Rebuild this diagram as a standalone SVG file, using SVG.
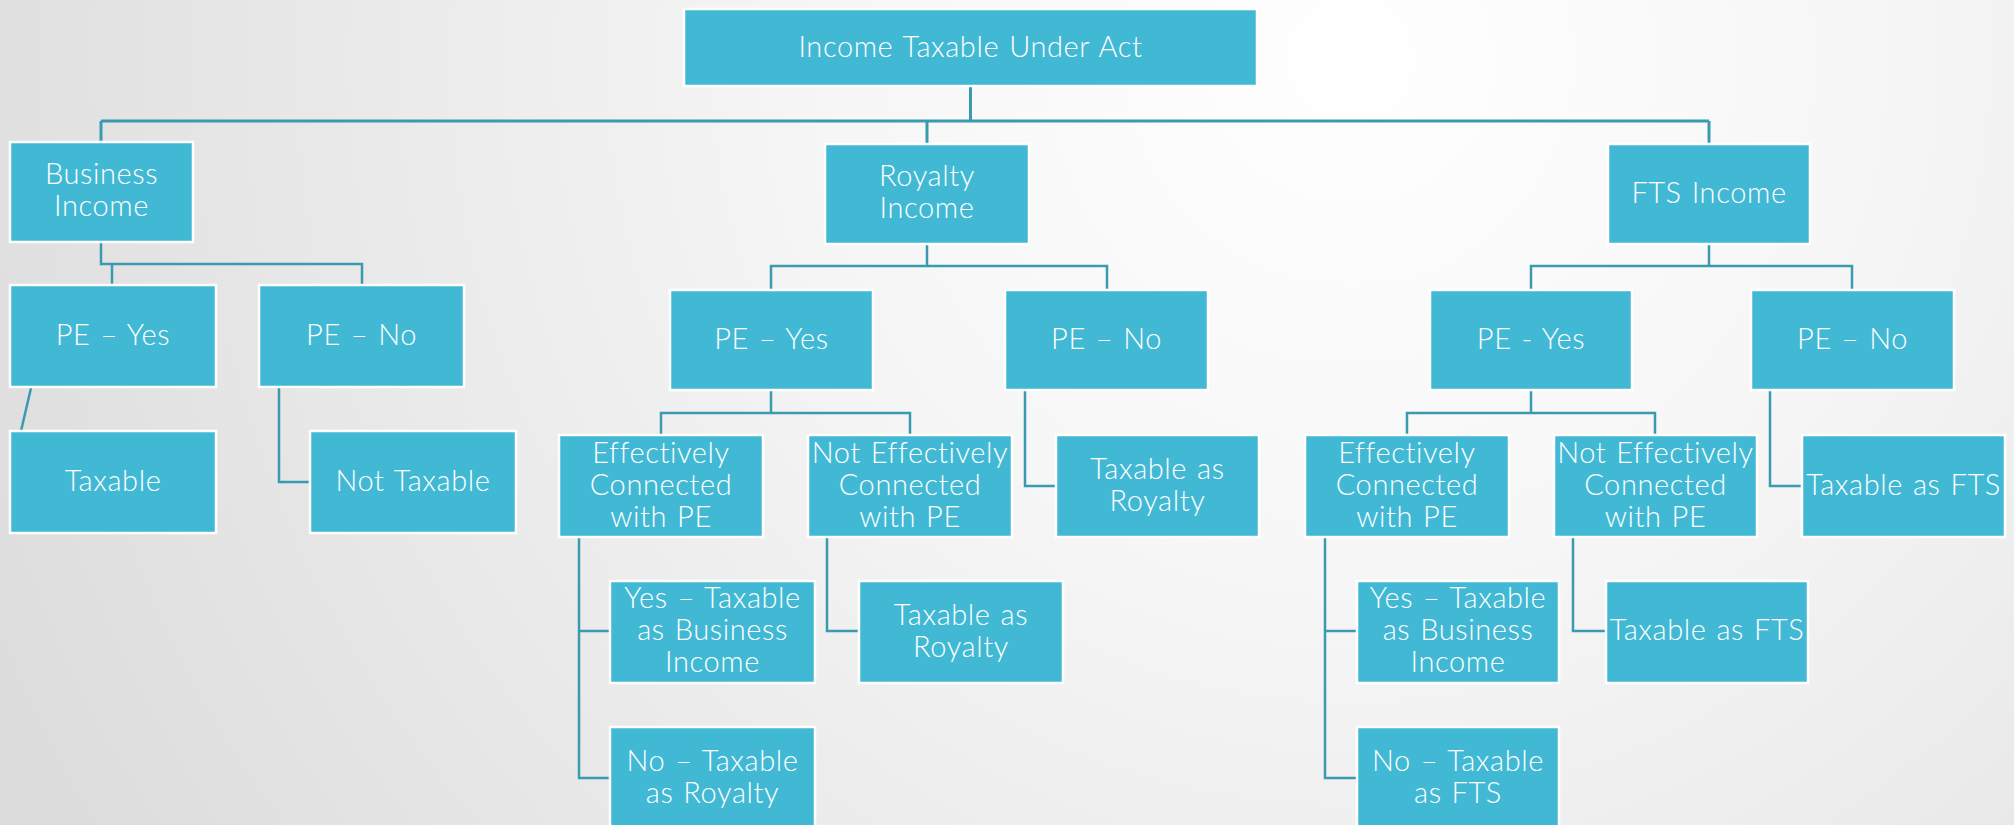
<svg xmlns="http://www.w3.org/2000/svg" width="2014" height="825" viewBox="0 0 2014 825">
  <defs>
    <radialGradient id="bg" cx="1350" cy="60" r="1500" gradientUnits="userSpaceOnUse">
      <stop offset="0" stop-color="#ffffff"/>
      <stop offset="0.35" stop-color="#f6f6f6"/>
      <stop offset="1" stop-color="#dcdcdc"/>
    </radialGradient>
  </defs>
  <style>
    .box { fill: #42b9d4; stroke: #ffffff; stroke-width: 2.5; }
    .lbl { fill: #ffffff; font-family: "Lato", "Open Sans", "Liberation Sans", sans-serif; font-weight: 300; font-size: 29px; letter-spacing: 0.6px; word-spacing: 1.5px; text-anchor: middle; }
    .wire { fill: none; stroke: #3a9bb0; stroke-width: 2.5; }
    .main { stroke-width: 3; }
  </style>

  <rect x="0" y="0" width="2014" height="825" fill="url(#bg)"/>

  <!-- tree connectors -->
  <g id="connectors">
    <path class="wire main" d="M970.5 86 V121 M101 121 H1709 M101 121 V142 M927 121 V144 M1709 121 V144"/>
    <!-- business income branch -->
    <path class="wire" d="M101 242 V264 H362 V285 M112 264 V285"/>
    <path class="wire" d="M31 388 L21 431"/>
    <path class="wire" d="M279 388 V482 H310"/>
    <!-- royalty income branch -->
    <path class="wire" d="M927 244 V266 M771 290 V266 H1107 V290"/>
    <path class="wire" d="M771 390 V413 M661 435 V413 H910 V435"/>
    <path class="wire" d="M1025 390 V486 H1056"/>
    <path class="wire" d="M579 537 V778 H610 M579 631 H610"/>
    <path class="wire" d="M827 537 V631 H859"/>
    <!-- FTS income branch -->
    <path class="wire" d="M1709 244 V266 M1531 290 V266 H1852 V290"/>
    <path class="wire" d="M1531 390 V413 M1407 435 V413 H1655 V435"/>
    <path class="wire" d="M1770 390 V486 H1802"/>
    <path class="wire" d="M1325 537 V778 H1357 M1325 631 H1357"/>
    <path class="wire" d="M1573 537 V631 H1606"/>
  </g>

  <g id="root">
    <rect class="box" x="684" y="9" width="573" height="77"/>
    <text class="lbl" x="970.5" y="57">Income Taxable Under Act</text>
  </g>

  <!-- business income -->
  <g id="business-income">
    <rect class="box" x="10" y="142" width="183" height="100"/>
    <text class="lbl" x="101.5" y="184">Business</text>
    <text class="lbl" x="101.5" y="216">Income</text>
  </g>
  <g id="business-pe-yes">
    <rect class="box" x="10" y="285" width="206" height="102"/>
    <text class="lbl" x="113" y="345">PE – Yes</text>
  </g>
  <g id="business-pe-no">
    <rect class="box" x="259" y="285" width="205" height="102"/>
    <text class="lbl" x="361.5" y="345">PE – No</text>
  </g>
  <g id="business-taxable">
    <rect class="box" x="10" y="431" width="206" height="102"/>
    <text class="lbl" x="113" y="491">Taxable</text>
  </g>
  <g id="business-not-taxable">
    <rect class="box" x="310" y="431" width="206" height="102"/>
    <text class="lbl" x="413" y="491">Not Taxable</text>
  </g>

  <!-- royalty income -->
  <g id="royalty-income">
    <rect class="box" x="825" y="144" width="204" height="100"/>
    <text class="lbl" x="927" y="186">Royalty</text>
    <text class="lbl" x="927" y="218">Income</text>
  </g>
  <g id="royalty-pe-yes">
    <rect class="box" x="670" y="290" width="203" height="100"/>
    <text class="lbl" x="771.5" y="349">PE – Yes</text>
  </g>
  <g id="royalty-pe-no">
    <rect class="box" x="1005" y="290" width="203" height="100"/>
    <text class="lbl" x="1106.5" y="349">PE – No</text>
  </g>
  <g id="royalty-effective">
    <rect class="box" x="559" y="435" width="204" height="102"/>
    <text class="lbl" x="661" y="463">Effectively</text>
    <text class="lbl" x="661" y="495">Connected</text>
    <text class="lbl" x="661" y="527">with PE</text>
  </g>
  <g id="royalty-not-effective">
    <rect class="box" x="808" y="435" width="204" height="102"/>
    <text class="lbl" x="910" y="463">Not Effectively</text>
    <text class="lbl" x="910" y="495">Connected</text>
    <text class="lbl" x="910" y="527">with PE</text>
  </g>
  <g id="royalty-no-pe-result">
    <rect class="box" x="1056" y="435" width="203" height="102"/>
    <text class="lbl" x="1157.5" y="479">Taxable as</text>
    <text class="lbl" x="1157.5" y="511">Royalty</text>
  </g>
  <g id="royalty-yes-business">
    <rect class="box" x="610" y="581" width="205" height="102"/>
    <text class="lbl" x="712.5" y="608">Yes – Taxable</text>
    <text class="lbl" x="712.5" y="640">as Business</text>
    <text class="lbl" x="712.5" y="672">Income</text>
  </g>
  <g id="royalty-no-royalty">
    <rect class="box" x="610" y="727" width="205" height="104"/>
    <text class="lbl" x="712.5" y="771">No – Taxable</text>
    <text class="lbl" x="712.5" y="803">as Royalty</text>
  </g>
  <g id="royalty-not-effective-result">
    <rect class="box" x="859" y="581" width="204" height="102"/>
    <text class="lbl" x="961" y="625">Taxable as</text>
    <text class="lbl" x="961" y="657">Royalty</text>
  </g>

  <!-- FTS income -->
  <g id="fts-income">
    <rect class="box" x="1608" y="144" width="202" height="100"/>
    <text class="lbl" x="1709" y="203">FTS Income</text>
  </g>
  <g id="fts-pe-yes">
    <rect class="box" x="1430" y="290" width="202" height="100"/>
    <text class="lbl" x="1531" y="349">PE - Yes</text>
  </g>
  <g id="fts-pe-no">
    <rect class="box" x="1751" y="290" width="203" height="100"/>
    <text class="lbl" x="1852.5" y="349">PE – No</text>
  </g>
  <g id="fts-effective">
    <rect class="box" x="1305" y="435" width="204" height="102"/>
    <text class="lbl" x="1407" y="463">Effectively</text>
    <text class="lbl" x="1407" y="495">Connected</text>
    <text class="lbl" x="1407" y="527">with PE</text>
  </g>
  <g id="fts-not-effective">
    <rect class="box" x="1554" y="435" width="203" height="102"/>
    <text class="lbl" x="1655.5" y="463">Not Effectively</text>
    <text class="lbl" x="1655.5" y="495">Connected</text>
    <text class="lbl" x="1655.5" y="527">with PE</text>
  </g>
  <g id="fts-no-pe-result">
    <rect class="box" x="1802" y="435" width="203" height="102"/>
    <text class="lbl" x="1903.5" y="495">Taxable as FTS</text>
  </g>
  <g id="fts-yes-business">
    <rect class="box" x="1357" y="581" width="202" height="102"/>
    <text class="lbl" x="1458" y="608">Yes – Taxable</text>
    <text class="lbl" x="1458" y="640">as Business</text>
    <text class="lbl" x="1458" y="672">Income</text>
  </g>
  <g id="fts-no-fts">
    <rect class="box" x="1357" y="727" width="202" height="104"/>
    <text class="lbl" x="1458" y="771">No – Taxable</text>
    <text class="lbl" x="1458" y="803">as FTS</text>
  </g>
  <g id="fts-not-effective-result">
    <rect class="box" x="1606" y="581" width="202" height="102"/>
    <text class="lbl" x="1707" y="640">Taxable as FTS</text>
  </g>
</svg>
